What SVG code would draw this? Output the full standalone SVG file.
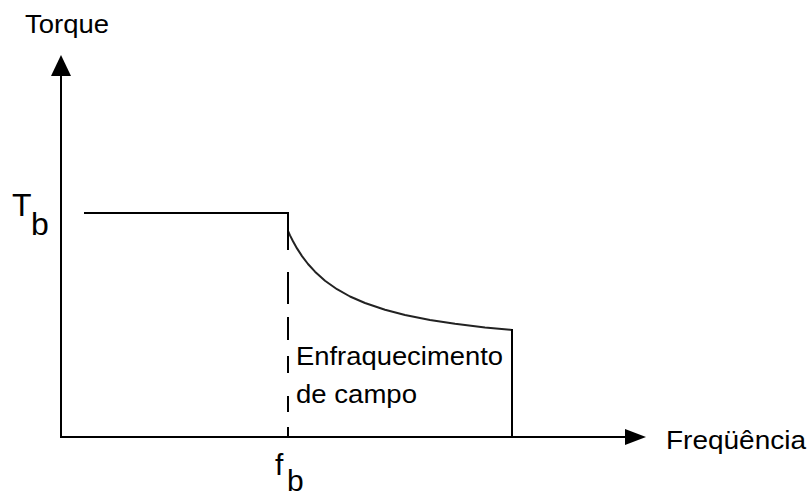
<svg xmlns="http://www.w3.org/2000/svg" width="809" height="497" viewBox="0 0 809 497">
  <style>
    .ln { fill: none; stroke: #000; stroke-width: 2; }
    .curve { fill: none; stroke: #222; stroke-width: 2; stroke-linejoin: round; }
    .ah { fill: #000; stroke: none; }
    .t { font-family: "Liberation Sans", Arial, sans-serif; fill: #000; }
  </style>
  <rect x="0" y="0" width="809" height="497" fill="#fff"/>
  <g id="axes">
    <line class="ln" x1="61" y1="72" x2="61" y2="438"/>
    <polygon class="ah" points="61,55 51,76 71,76"/>
    <line class="ln" x1="60" y1="437" x2="628" y2="437"/>
    <polygon class="ah" points="646,437 625,429 625,445"/>
  </g>
  <g id="torque-curve">
    <line class="ln" x1="84" y1="213" x2="289" y2="213"/>
    <polyline class="curve" points="288,231 290,235.4 293,241.3 297,248.4 302,256.1 308,264 315,271.7 325,280.7 337,289.2 350,296.5 365,303 385,309.8 405,315 430,319.9 455,323.8 485,327.4 512,330"/>
    <line class="ln" x1="512" y1="329" x2="512" y2="437"/>
  </g>
  <g id="fb-marker">
    <path class="ln" d="M288,212 V250 M288,272 V304 M288,317 V340 M288,356 V373 M288,396 V412 M288,427 V437"/>
  </g>
  <g id="labels">
    <text class="t" x="25" y="33" font-size="26" textLength="84" lengthAdjust="spacingAndGlyphs">Torque</text>
    <text class="t" x="12" y="216" font-size="32">T</text>
    <text class="t" x="31" y="235" font-size="32">b</text>
    <text class="t" x="275" y="475" font-size="30">f</text>
    <text class="t" x="287" y="491" font-size="30">b</text>
    <text class="t" x="296" y="365" font-size="25" textLength="207" lengthAdjust="spacingAndGlyphs">Enfraquecimento</text>
    <text class="t" x="296" y="403" font-size="25" textLength="121" lengthAdjust="spacingAndGlyphs">de campo</text>
    <text class="t" x="666" y="449" font-size="26" textLength="140" lengthAdjust="spacingAndGlyphs">Freqüência</text>
  </g>
</svg>
